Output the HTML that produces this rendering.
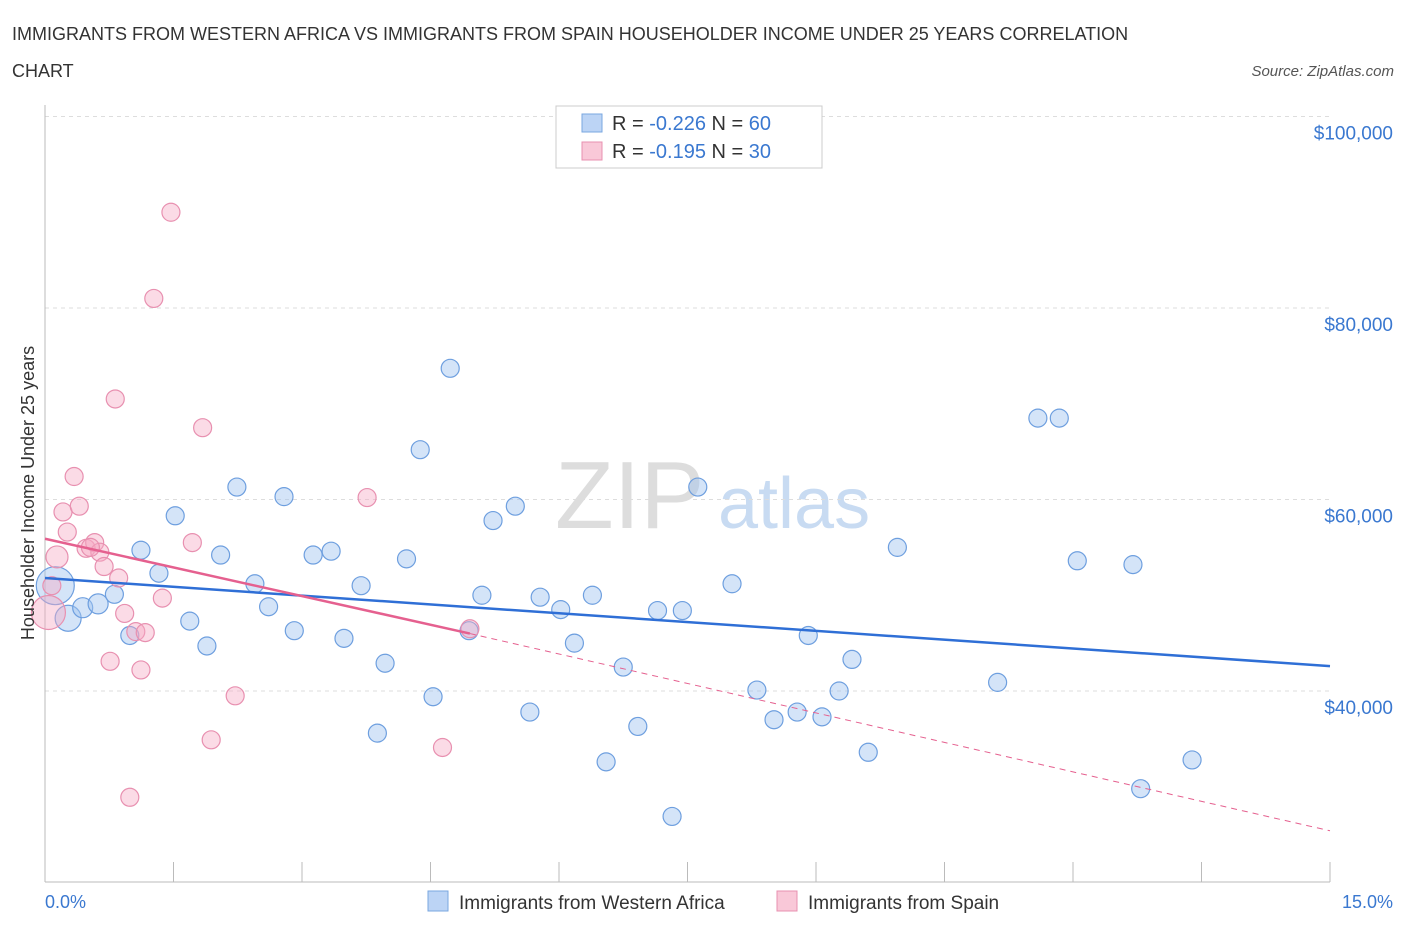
<!DOCTYPE html>
<html><head><meta charset="utf-8"><style>
body{margin:0;background:#fff;font-family:"Liberation Sans",sans-serif;}
svg text{font-family:"Liberation Sans",sans-serif;}
</style></head><body>
<svg id="chart" width="1406" height="930" xmlns="http://www.w3.org/2000/svg">
<text x="12" y="40" font-size="18" fill="#333">IMMIGRANTS FROM WESTERN AFRICA VS IMMIGRANTS FROM SPAIN HOUSEHOLDER INCOME UNDER 25 YEARS CORRELATION</text>
<text x="12" y="77" font-size="18" fill="#333">CHART</text>
<text x="1394" y="76" font-size="15" fill="#555" text-anchor="end" font-style="italic">Source: ZipAtlas.com</text>
<g><text x="555" y="528" font-size="96" fill="#ddd" font-family="Liberation Serif,serif">ZIP</text><text x="718" y="528" font-size="72" fill="#c8dbf2">atlas</text></g>
<g id="grid"></g><g id="marks"></g>
<text transform="translate(34,493) rotate(-90)" font-size="18" fill="#333" text-anchor="middle">Householder Income Under 25 years</text>
<text x="45" y="908" font-size="18" fill="#3a78d0">0.0%</text>
<text x="1393" y="908" font-size="18" fill="#3a78d0" text-anchor="end">15.0%</text>
<g>
<rect x="556" y="106" width="266" height="62" fill="#fff" stroke="#ccc"/>
<rect x="582" y="114" width="20" height="18" fill="#bcd4f5" stroke="#7aa7e0"/>
<rect x="582" y="142" width="20" height="18" fill="#f9c8d8" stroke="#e890b0"/>
<text x="612" y="130" font-size="20" fill="#333">R = <tspan fill="#3a78d0">-0.226</tspan>   N = <tspan fill="#3a78d0">60</tspan></text>
<text x="612" y="158" font-size="20" fill="#333">R =  <tspan fill="#3a78d0">-0.195</tspan>   N = <tspan fill="#3a78d0">30</tspan></text>
</g>
<g>
<rect x="428" y="891" width="20" height="20" fill="#bcd4f5" stroke="#7aa7e0"/>
<text x="459" y="909" font-size="19" fill="#333">Immigrants from Western Africa</text>
<rect x="777" y="891" width="20" height="20" fill="#f9c8d8" stroke="#e890b0"/>
<text x="808" y="909" font-size="19" fill="#333">Immigrants from Spain</text>
</g>
</svg>
<script>
const yTicks=[40000,60000,80000,100000];
const yTickLabels=["$40,000","$60,000","$80,000","$100,000"];
const blueX=[0.12,0.27,0.44,0.62,0.81,0.99,1.12,1.33,1.52,1.69,1.89,2.05,2.24,2.45,2.61,2.79,2.91,3.13,3.34,3.49,3.69,3.97,3.88,4.22,4.38,4.53,4.73,4.95,5.10,5.23,5.49,5.66,5.78,6.02,6.18,6.39,6.55,6.75,6.92,7.15,7.32,7.44,7.62,8.02,8.31,8.51,8.78,8.91,9.07,9.27,9.42,9.61,9.95,11.12,11.59,11.84,12.05,12.70,12.79,13.39];
const blueY=[51000,47600,48700,49100,50100,45800,54700,52300,58300,47300,44700,54200,61300,51200,48800,60300,46300,54200,54600,45500,51000,42900,35600,53800,65200,39400,73700,46300,50000,57800,59300,37800,49800,48500,45000,50000,32600,42500,36300,48400,26900,48400,61300,51200,40100,37000,37800,45800,37300,40000,43300,33600,55000,40900,68500,68500,53600,53200,29800,32800];
const blueR=[19,13,10,10,9,9,9,9,9,9,9,9,9,9,9,9,9,9,9,9,9,9,9,9,9,9,9,9,9,9,9,9,9,9,9,9,9,9,9,9,9,9,9,9,9,9,9,9,9,9,9,9,9,9,9,9,9,9,9,9];
const pinkX=[0.04,0.08,0.14,0.26,0.21,0.34,0.40,0.48,0.58,0.64,0.69,0.76,0.82,0.86,0.93,0.99,1.06,1.12,1.17,1.27,1.37,1.47,1.72,1.84,1.94,2.22,3.76,4.64,4.96,0.53];
const pinkY=[48200,51000,54000,56600,58700,62400,59300,54900,55500,54500,53000,43100,70500,51800,48100,28900,46200,42200,46100,81000,49700,90000,55500,67500,34900,39500,60200,34100,46500,55000];
const pinkR=[17,9,11,9,9,9,9,9,9,9,9,9,9,9,9,9,9,9,9,9,9,9,9,9,9,9,9,9,9,9];
const X0=45,X1=1330,Y0=882;
const xs=v=>X0+(v/15)*(X1-X0);
const ys=v=>691-(v-40000)/20000*191.5;
const NS="http://www.w3.org/2000/svg";
function mk(tag,attrs,parent){const e=document.createElementNS(NS,tag);for(const k in attrs)e.setAttribute(k,attrs[k]);parent.appendChild(e);return e;}
const grid=document.getElementById('grid'),marks=document.getElementById('marks');
yTicks.forEach((t,i)=>{
 const l=mk('line',{x1:X0,x2:X1,y1:ys(t),y2:ys(t),stroke:'#ddd','stroke-dasharray':'4,4'},grid);
 
 
 const tx=mk('text',{x:1393,y:ys(t)+23,'font-size':19,fill:'#3a78d0','text-anchor':'end'},grid);
 tx.textContent=yTickLabels[i];
 
 
});
const ax=mk('line',{x1:X0,x2:X0,y1:105,y2:Y0,stroke:'#bbb'},grid);


const bx=mk('line',{x1:X0,x2:X1,y1:Y0,y2:Y0,stroke:'#bbb'},grid);


for(let i=0;i<=10;i++){const t=mk('line',{x1:xs(i*1.5),x2:xs(i*1.5),y1:Y0-20,y2:Y0,stroke:'#bbb'},grid);
 
 }
blueX.forEach((v,i)=>{const c=mk('circle',{cx:xs(v),cy:ys(blueY[i]),r:blueR[i],fill:'rgba(160,195,240,0.45)',stroke:'#6e9fdf','stroke-width':1.2},marks);
 
 });
pinkX.forEach((v,i)=>{const c=mk('circle',{cx:xs(v),cy:ys(pinkY[i]),r:pinkR[i],fill:'rgba(245,170,195,0.42)',stroke:'#e890b0','stroke-width':1.2},marks);
 
 });
const bt=mk('line',{x1:xs(0),y1:ys(51800),x2:xs(15),y2:ys(42600),stroke:'#2f6fd6','stroke-width':2.5},marks);


const pt=mk('line',{x1:xs(0),y1:ys(55900),x2:xs(4.96),y2:ys(46000),stroke:'#e5608f','stroke-width':2.5},marks);


const pd=mk('line',{x1:xs(4.96),y1:ys(46000),x2:xs(15),y2:ys(25400),stroke:'#e5608f','stroke-width':1,'stroke-dasharray':'6,5'},marks);


</script>
</body></html>
